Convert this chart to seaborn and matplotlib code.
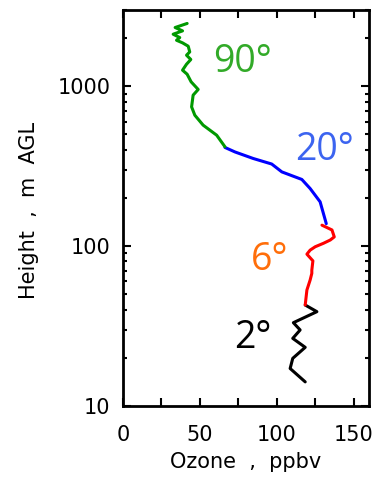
import matplotlib
matplotlib.use("Agg")
import matplotlib.pyplot as plt
import matplotlib.ticker as mticker
import numpy as np
import pandas as pd
import seaborn as sns

# Ozone profile segments (ppbv) versus height (m AGL), one per elevation angle
oz_2 = [118.5, 108.7, 110.4, 118.5, 110.4, 115.2, 110.8, 126.1, 118.5]
ht_2 = [14.1, 17.1, 19.8, 23.2, 26.4, 29.8, 33.1, 38.8, 42.7]

oz_6 = [118.5, 119.6, 121.7, 122.8, 122.8, 123.5, 119.6, 121.7, 125.0, 130.4, 134.8, 137.4, 135.9, 129.4]
ht_6 = [42.7, 53.0, 61.2, 67.4, 70.6, 80.7, 88.9, 94.2, 98.9, 104, 109, 114, 126, 135]

oz_20 = [132.2, 128.2, 121.7, 116.3, 103.3, 96.7, 84.7, 72.8, 66.3]
ht_20 = [138, 189, 229, 261, 291, 326, 353, 388, 414]

oz_90 = [66.3, 60.9, 52.1, 46.7, 44.6, 45.6, 48.9, 44.3, 41.7, 38.7, 41.3, 44.1, 41.3,
         43.4, 42.4, 38.7, 34.8, 36.9, 32.6, 38.7, 33.9, 41.7]
ht_90 = [418, 494, 571, 659, 743, 880, 955, 1066, 1190, 1261, 1374, 1471, 1565,
         1641, 1782, 1870, 1941, 2018, 2118, 2222, 2333, 2473]

segments = [
    ("2°", oz_2, ht_2, "black", "black"),
    ("6°", oz_6, ht_6, "#ff0000", "#ff6e0a"),
    ("20°", oz_20, ht_20, "#0000ff", "#3c64f0"),
    ("90°", oz_90, ht_90, "#009900", "#32aa28"),
]
label_pos = {"2°": (84.6, 26.5), "6°": (95.6, 82), "20°": (130.8, 398), "90°": (77.4, 1416)}

sns.set_style("ticks")
plt.rcParams["font.family"] = ["DejaVu Sans"]
plt.rcParams["text.color"] = "black"

fig = plt.figure(figsize=(3.86, 4.79), dpi=100)
ax = fig.add_axes([0.3187, 0.153, 0.6373, 0.826])

for name, oz, ht, lc, tc in segments:
    df = pd.DataFrame({"ozone": oz, "height": ht})
    sns.lineplot(data=df, x="ozone", y="height", sort=False, estimator=None,
                 color=lc, linewidth=2.2, ax=ax)
    tx, ty = label_pos[name]
    ax.text(tx, ty, name, color=tc, fontsize=27, family="Open Sans",
            ha="center", va="center")

ax.set_yscale("log")
ax.set_xlim(0, 160)
ax.set_ylim(10, 3000)

ax.xaxis.set_major_locator(mticker.MultipleLocator(50))
ax.xaxis.set_minor_locator(mticker.MultipleLocator(25))
ax.yaxis.set_major_locator(mticker.LogLocator(base=10))
ax.yaxis.set_minor_locator(mticker.LogLocator(base=10, subs=np.arange(2, 10)))
ax.yaxis.set_major_formatter(mticker.FuncFormatter(lambda v, p: f"{v:g}"))
ax.yaxis.set_minor_formatter(mticker.NullFormatter())

ax.tick_params(axis="both", which="both", direction="in", top=True, right=True,
               width=1.5, labelsize=15, colors="black")
ax.tick_params(axis="x", which="both", length=6, pad=14)
ax.tick_params(axis="y", which="major", length=6, pad=9)
ax.tick_params(axis="y", which="minor", length=3)

for s in ax.spines.values():
    s.set_linewidth(2)
    s.set_color("black")

ax.set_xlabel("")
ax.set_ylabel("")
fig.text(246 / 386, 1 - 462 / 479, "Ozone  ,  ppbv", fontsize=15, color="black",
         ha="center", va="center")
fig.text(29 / 386, 1 - 210 / 479, "Height  ,  m  AGL", fontsize=15, color="black",
         rotation=90, ha="center", va="center")

fig.savefig("out.png", dpi=100)
